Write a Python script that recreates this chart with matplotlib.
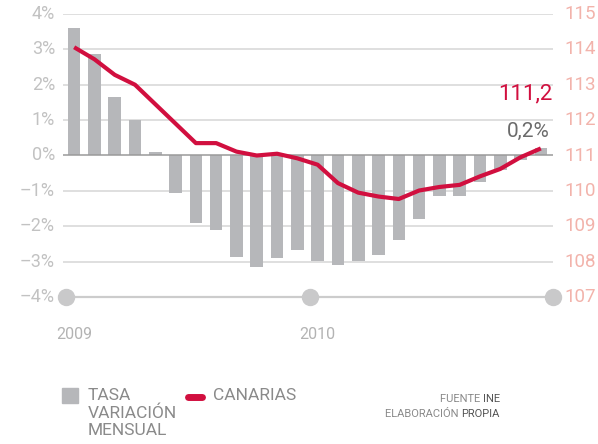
import matplotlib.pyplot as plt

plt.rcParams['font.family'] = ['Roboto', 'DejaVu Sans']

# monthly data, Jan 2009 .. Dec 2010
tasa = [3.6, 2.87, 1.66, 1.0, 0.1, -1.07, -1.92, -2.1, -2.86, -3.16, -2.91, -2.68,
        -2.97, -3.1, -2.99, -2.8, -2.4, -1.79, -1.14, -1.14, -0.74, -0.42, -0.12, 0.2]
canarias = [114.06, 113.72, 113.28, 113.0, 112.45, 111.9, 111.35, 111.35, 111.11, 111.0,
            111.05, 110.92, 110.74, 110.22, 109.95, 109.84, 109.77, 110.01, 110.11,
            110.17, 110.41, 110.62, 110.95, 111.2]
year_labels = ["2009", "2010"]
left_ticks = [4, 3, 2, 1, 0, -1, -2, -3, -4]
right_ticks = [115, 114, 113, 112, 111, 110, 109, 108, 107]

bar_color = "#b6b7ba"
line_color = "#d10f3f"
grid_color = "#d6d6d6"
W, H = 598, 444

fig = plt.figure(figsize=(W / 100, H / 100), dpi=100)
ax = fig.add_axes([63 / W, (H - 297) / H, 490 / W, 283 / H])
ax.set_xlim(-0.15, 24)
ax.set_ylim(-4, 4)
ax.axis("off")

xs = [i + 0.4 for i in range(len(tasa))]

# gridlines
for t in left_ticks:
    if t == 0:
        ax.axhline(t, color="#9a9a9a", lw=1.1, zorder=3)
    elif t == -4:
        ax.plot([0, 24], [t, t], color="#cccccc", lw=1.6, zorder=1, clip_on=False)
    else:
        ax.axhline(t, color=grid_color, lw=1.1, zorder=1)

ax.bar(xs, tasa, width=0.62, color=bar_color, zorder=2)

# axis dots
ax.plot([0, 12, 24], [-4, -4, -4], "o", ms=11.5, color="#c9c9ca",
        clip_on=False, zorder=4)

# left tick labels
for t in left_ticks:
    lab = ("%d%%" % t).replace("-", "\u2013")
    ax.text(-0.55, t, lab, ha="right", va="center", fontsize=13,
            color="#c2c2c2")

# year labels
for k, lab in enumerate(year_labels):
    ax.text(12 * k + 0.4, -5.05, lab, ha="center", va="center",
            fontsize=11.5, color="#b3b3b3")

# right axis with index
ax2 = ax.twinx()
ax2.set_position(ax.get_position())
ax2.set_ylim(107, 115)
ax2.set_xlim(-0.15, 24)
ax2.axis("off")
ax2.plot(xs, canarias, color=line_color, lw=3.0, solid_capstyle="butt", zorder=5)
for t in right_ticks:
    ax2.text(24.55, t, str(t), ha="left", va="center", fontsize=13.5,
             color="#f2b3ab")

ax2.text(24, 112.45, "111,2", ha="right", va="bottom", fontsize=16,
         color=line_color)
ax2.text(23.85, 111.42, "0,2%", ha="right", va="bottom", fontsize=15,
         color="#6b6b6b")

# legend
fig.patches.append(plt.Rectangle((62 / W, (H - 403) / H), 16 / W, 15 / H,
                                 transform=fig.transFigure, color=bar_color))
fig.text(88 / W, (H - 388) / H, "TASA\nVARIACIÓN\nMENSUAL", ha="left", va="top",
         fontsize=12.5, color="#8a8a8a", linespacing=1.2)
fig.add_artist(plt.Line2D([188 / W, 202 / W], [(H - 396.5) / H] * 2, lw=5,
                          color=line_color, solid_capstyle="round",
                          transform=fig.transFigure))
fig.text(213 / W, (H - 388) / H, "CANARIAS", ha="left", va="top",
         fontsize=12.5, color="#8a8a8a")

# source, two tones
renderer = fig.canvas.get_renderer()
for row, (light, dark) in enumerate([("FUENTE ", "INE"), ("ELABORACIÓN ", "PROPIA")]):
    y = (H - 402 - row * 15) / H
    t = fig.text(500 / W, y, dark, ha="right", va="baseline", fontsize=8,
                 color="#555555")
    x0 = t.get_window_extent(renderer).x0
    fig.text(x0 / W, y, light, ha="right", va="baseline", fontsize=8,
             color="#8a8a8a")

fig.savefig("out.png", dpi=100)
